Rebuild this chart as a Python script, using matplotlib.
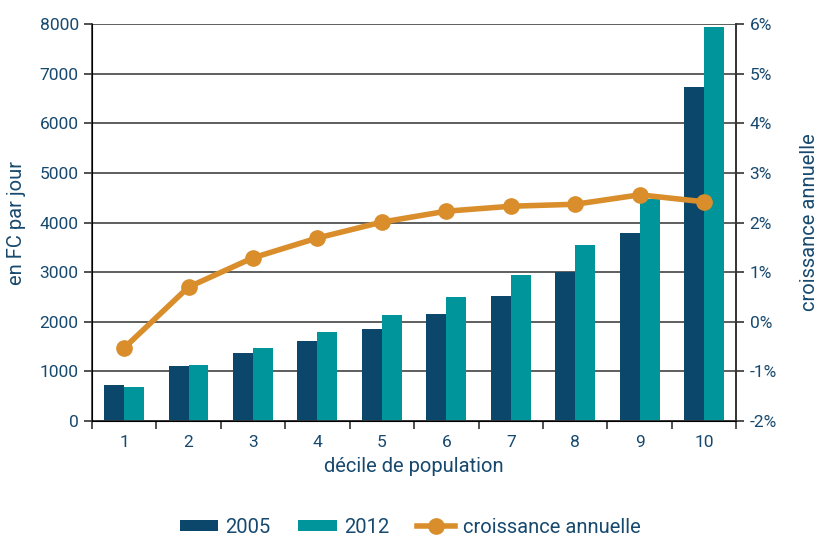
import matplotlib.pyplot as plt
import matplotlib.ticker as mticker
import numpy as np

plt.rcParams['font.family'] = ['Roboto', 'DejaVu Sans']

deciles = [1, 2, 3, 4, 5, 6, 7, 8, 9, 10]
val_2005 = [720, 1110, 1370, 1610, 1860, 2160, 2530, 3010, 3800, 6730]
val_2012 = [690, 1130, 1470, 1800, 2140, 2500, 2940, 3550, 4480, 7940]
croissance = [-0.53, 0.70, 1.29, 1.69, 2.01, 2.23, 2.33, 2.37, 2.56, 2.42]

c_2005 = '#0b466b'
c_2012 = '#00959a'
c_line = '#d98e2b'
c_text = '#17496f'

fig = plt.figure(figsize=(8.2, 5.39), dpi=100)
ax = fig.add_axes([0.112, 0.219, 0.786, 0.736])
x = np.array(deciles)
w = 0.31

ax.set_axisbelow(True)
ax.yaxis.grid(True, color='#333333', linewidth=1.1)
ax.bar(x - w / 2, val_2005, w, color=c_2005, label='2005')
ax.bar(x + w / 2, val_2012, w, color=c_2012, label='2012')
ax.set_xlim(0.5, 10.5)
ax.set_ylim(0, 8000)
ax.set_yticks(range(0, 8001, 1000))
ax.set_xticks(x)
ax.set_xticklabels([str(d) for d in deciles])
ax.xaxis.set_minor_locator(mticker.FixedLocator(np.arange(0.5, 11, 1)))
ax.tick_params(axis='x', which='major', length=0, labelsize=12.5, labelcolor=c_text, pad=10)
ax.tick_params(axis='x', which='minor', length=6, width=1.2, color='#333333')
ax.tick_params(axis='y', length=6, width=1.2, color='#333333', labelsize=12.5, labelcolor=c_text)
ax.spines['top'].set_visible(False)
for s in ['left', 'right', 'bottom']:
    ax.spines[s].set_color('#333333')
    ax.spines[s].set_linewidth(1.2)
ax.set_xlabel('décile de population', fontsize=14.5, color=c_text, labelpad=5)
ax.set_ylabel('en FC par jour', fontsize=14.5, color=c_text, labelpad=10)

ax2 = ax.twinx()
ax2.plot(x, croissance, color=c_line, linewidth=4, marker='o', markersize=11,
         label='croissance annuelle')
ax2.set_ylim(-2, 6)
ax2.set_yticks(range(-2, 7))
ax2.yaxis.set_major_formatter(mticker.FuncFormatter(lambda v, p: '%d%%' % v))
ax2.tick_params(axis='y', length=6, width=1.2, color='#333333', labelsize=12.5, labelcolor=c_text)
ax2.spines['top'].set_visible(False)
ax2.spines['right'].set_color('#333333')
ax2.spines['right'].set_linewidth(1.2)
ax2.set_ylabel('croissance annuelle', fontsize=14.5, color=c_text, rotation=90, labelpad=17)

h1, l1 = ax.get_legend_handles_labels()
h2, l2 = ax2.get_legend_handles_labels()
leg = fig.legend(h1 + h2, l1 + l2, loc='center', bbox_to_anchor=(0.5, 0.022),
                 ncol=3, frameon=False, fontsize=14.5, handlelength=1.9,
                 handleheight=0.5, handletextpad=0.35, columnspacing=1.4,
                 borderpad=0.1)
for t in leg.get_texts():
    t.set_color(c_text)

fig.savefig('out.png', dpi=100)
